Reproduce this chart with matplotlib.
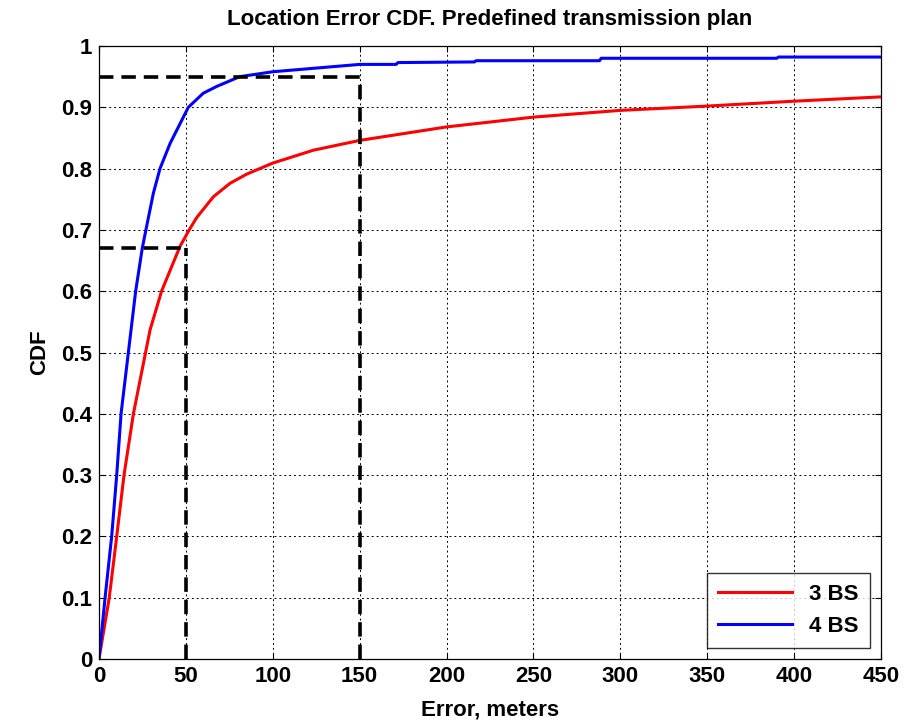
import matplotlib
matplotlib.use("Agg")
import matplotlib.pyplot as plt

# 3 BS (red) - error in meters vs CDF
err_3bs = [0, 5.9, 10.2, 14.4, 19.8, 26.8, 29.4, 36, 46.6, 51.9, 56.2, 65.8, 75.4, 85, 100, 123.3, 150, 200, 250, 300, 350, 400, 450]
cdf_3bs = [0, 0.1, 0.2, 0.3, 0.4, 0.5, 0.537, 0.6, 0.673, 0.70, 0.72, 0.754, 0.776, 0.791, 0.809, 0.830, 0.846, 0.868, 0.884, 0.895, 0.902, 0.910, 0.917]

# 4 BS (blue)
err_4bs = [0, 3.5, 7.3, 10.2, 12.7, 16.9, 21.1, 24.9, 27, 31.3, 35.1, 40.9, 51.4, 60, 67.7, 81, 100, 150, 171, 172, 216, 217, 288, 289, 390, 391, 450]
cdf_4bs = [0, 0.1, 0.2, 0.3, 0.4, 0.5, 0.6, 0.67, 0.70, 0.76, 0.80, 0.841, 0.90, 0.923, 0.934, 0.95, 0.958, 0.970, 0.970, 0.973, 0.974, 0.976, 0.976, 0.980, 0.980, 0.982, 0.982]

# reference (dashed) marks
ref_err = [50, 150]
ref_cdf = [0.67, 0.95]

xticks = [0, 50, 100, 150, 200, 250, 300, 350, 400, 450]
yticks = [0, 0.1, 0.2, 0.3, 0.4, 0.5, 0.6, 0.7, 0.8, 0.9, 1]
ytick_labels = ['0', '0.1', '0.2', '0.3', '0.4', '0.5', '0.6', '0.7', '0.8', '0.9', '1']

plt.rcParams['font.family'] = ['Liberation Sans', 'DejaVu Sans']
plt.rcParams['font.weight'] = 'bold'

fig = plt.figure(figsize=(9.14, 7.2), dpi=100)
ax = fig.add_axes([0.1083, 0.0847, 0.8556, 0.8514])

ax.plot(err_3bs, cdf_3bs, color='#ff0000', lw=2.2, label='3 BS')
ax.plot(err_4bs, cdf_4bs, color='#0000ff', lw=2.2, label='4 BS')

# dashed guide lines
for xr, yr in zip(ref_err, ref_cdf):
    ax.plot([0, xr], [yr, yr], color='black', lw=2.6, linestyle=(0, (4, 2.2)))
    ax.plot([xr, xr], [0, yr], color='black', lw=2.6, linestyle=(0, (4, 2.2)))

ax.set_xlim(0, 450)
ax.set_ylim(0, 1)
ax.set_xticks(xticks)
ax.set_yticks(yticks)
ax.set_xticklabels([str(v) for v in xticks])
ax.set_yticklabels(ytick_labels)
ax.tick_params(direction='in', length=4, width=0.8, labelsize=16, top=True, right=True, pad=5)
for lab in ax.get_xticklabels() + ax.get_yticklabels():
    lab.set_fontweight('bold')

ax.grid(True, color='black', linestyle=(0, (2, 3)), linewidth=0.7)
for sp in ax.spines.values():
    sp.set_linewidth(0.9)

ax.set_title('Location Error CDF. Predefined transmission plan', fontsize=16, fontweight='bold', pad=15)
ax.set_xlabel('Error, meters', fontsize=16, fontweight='bold', labelpad=9)
ax.set_ylabel('CDF', fontsize=16, fontweight='bold', labelpad=8)

leg = ax.legend(loc='lower right', fontsize=16, frameon=True, fancybox=False,
                handlelength=3.3, borderaxespad=0.5, borderpad=0.5, labelspacing=0.5)
leg.get_frame().set_edgecolor('black')
leg.get_frame().set_linewidth(1.0)
for t in leg.get_texts():
    t.set_fontweight('bold')

fig.savefig('out.png', dpi=100)
